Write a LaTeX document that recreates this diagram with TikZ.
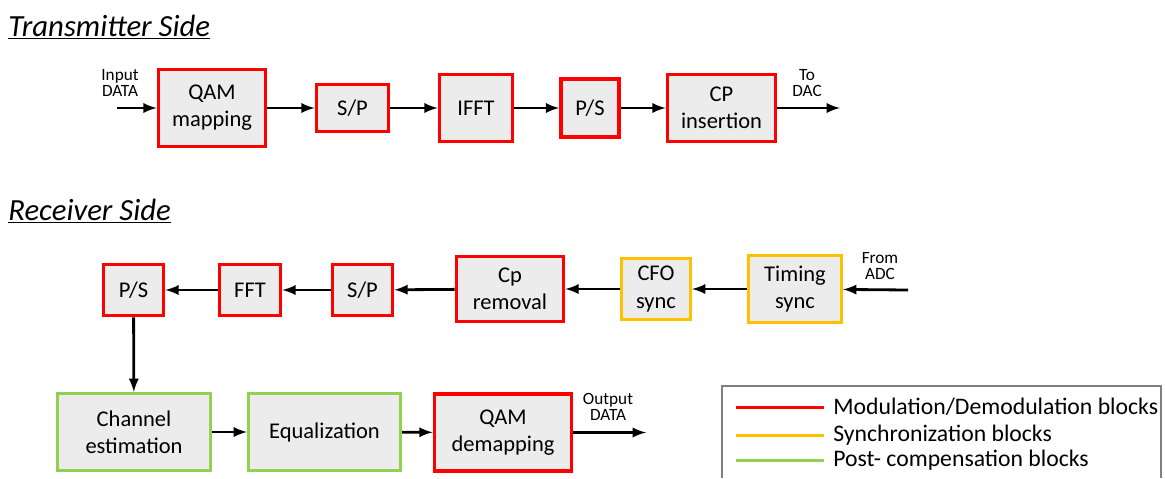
\documentclass[tikz,border=0pt]{standalone}
\usepackage{fontspec}
\setmainfont{Carlito}
\usetikzlibrary{positioning}
\definecolor{modred}{RGB}{255,0,0}
\definecolor{syncorange}{RGB}{255,192,0}
\definecolor{postgreen}{RGB}{146,208,80}
\definecolor{boxgray}{RGB}{236,236,236}
\definecolor{legendgray}{RGB}{128,128,128}
\tikzset{
	wh/.style 2 args={minimum width=#1*0.02cm, minimum height=#2*0.02cm},
	blk/.style={draw, fill=boxgray, line width=2.1pt, inner sep=0pt, align=center, font=\fontsize{12.8}{15.4}\selectfont},
	modblk/.style={blk, draw=modred},
	syncblk/.style={blk, draw=syncorange, line width=1.8pt},
	postblk/.style={blk, draw=postgreen, line width=1.8pt},
	sig/.style={line width=1.6pt, -latex},
	io/.style={font=\fontsize{9.8}{8.8}\selectfont, align=center},
	sidetitle/.style={font=\fontsize{17.5}{18}\selectfont\itshape, anchor=base west, inner sep=0pt},
	legtext/.style={font=\fontsize{13.5}{14}\selectfont, anchor=west, inner sep=0pt},
}
\begin{document}
\begin{tikzpicture}[x=0.02cm, y=-0.02cm]
	\useasboundingbox (0,0) rectangle (1165,478);
	% transmitter
	\node[sidetitle] (txtitle) at (8,36) {\underline{Transmitter Side}};
	\node[modblk, wh={107}{77}] (qam) at (212,108) {QAM\\mapping};
	\node[modblk, wh={72}{47}] (sptx) at (352.5,108) {S/P};
	\node[modblk, wh={73}{67}] (ifft) at (476,108) {IFFT};
	\node[modblk, wh={58}{58}] (pstx) at (590,108) {P/S};
	\node[modblk, wh={108}{67}] (cpins) at (721.5,108) {CP\\insertion};
	\coordinate (txin) at (117,108);
	\coordinate (txout) at (840,108);
	\node[io] (inlabel) at (120,83) {Input\\DATA};
	\node[io] (daclabel) at (807,83) {To\\DAC};
	\draw[sig] (txin) -- (qam);
	\draw[sig] (qam) -- (sptx);
	\draw[sig] (sptx) -- (ifft);
	\draw[sig] (ifft) -- (pstx);
	\draw[sig] (pstx) -- (cpins);
	\draw[sig] (cpins) -- (txout);
	% receiver
	\node[sidetitle] (rxtitle) at (8,220) {\underline{Receiver Side}};
	\node[modblk, wh={60}{51}] (psrx) at (133.5,290) {P/S};
	\node[modblk, wh={61}{51}] (fft) at (250,290) {FFT};
	\node[modblk, wh={60}{51}] (sprx) at (362.5,290) {S/P};
	\node[modblk, wh={107}{65}] (cprem) at (510,289) {Cp\\removal};
	\node[syncblk, wh={69}{61}] (cfo) at (656,289) {CFO\\sync};
	\node[syncblk, wh={93}{67}] (timing) at (795,289) {Timing\\sync};
	\node[postblk, wh={153}{77}] (chest) at (134,432) {Channel\\estimation};
	\node[postblk, wh={152}{77}] (equal) at (324.5,432) {Equalization};
	\node[modblk, wh={137}{77}] (qamdem) at (503,432.5) {QAM\\demapping};
	\coordinate (rxin) at (908,290);
	\coordinate (rxout) at (646,432.5);
	\node[io] (adclabel) at (880,266) {From\\ADC};
	\node[io] (outlabel) at (608,407) {Output\\DATA};
	\draw[sig] (rxin) -- (timing);
	\draw[sig] (timing) -- (cfo);
	\draw[sig] (cfo) -- (cprem);
	\draw[sig] (cprem) -- (sprx);
	\draw[sig] (sprx) -- (fft);
	\draw[sig] (fft) -- (psrx);
	\draw[sig] (psrx) -- (chest);
	\draw[sig] (chest) -- (equal);
	\draw[sig] (equal) -- (qamdem);
	\draw[sig] (qamdem) -- (rxout);
	% legend
	\draw[legendgray, line width=0.6pt] (722,478) -- (722,386) -- (1161,386) -- (1161,478);
	\draw[modred, line width=1.7pt] (736,407) -- (824,407);
	\draw[syncorange, line width=1.7pt] (736,435) -- (824,435);
	\draw[postgreen, line width=1.7pt] (736,460) -- (824,460);
	\node[legtext] (modleg) at (833,407) {Modulation/Demodulation blocks};
	\node[legtext] (syncleg) at (833,435) {Synchronization blocks};
	\node[legtext] (postleg) at (833,460) {Post- compensation blocks};
\end{tikzpicture}
\end{document}
